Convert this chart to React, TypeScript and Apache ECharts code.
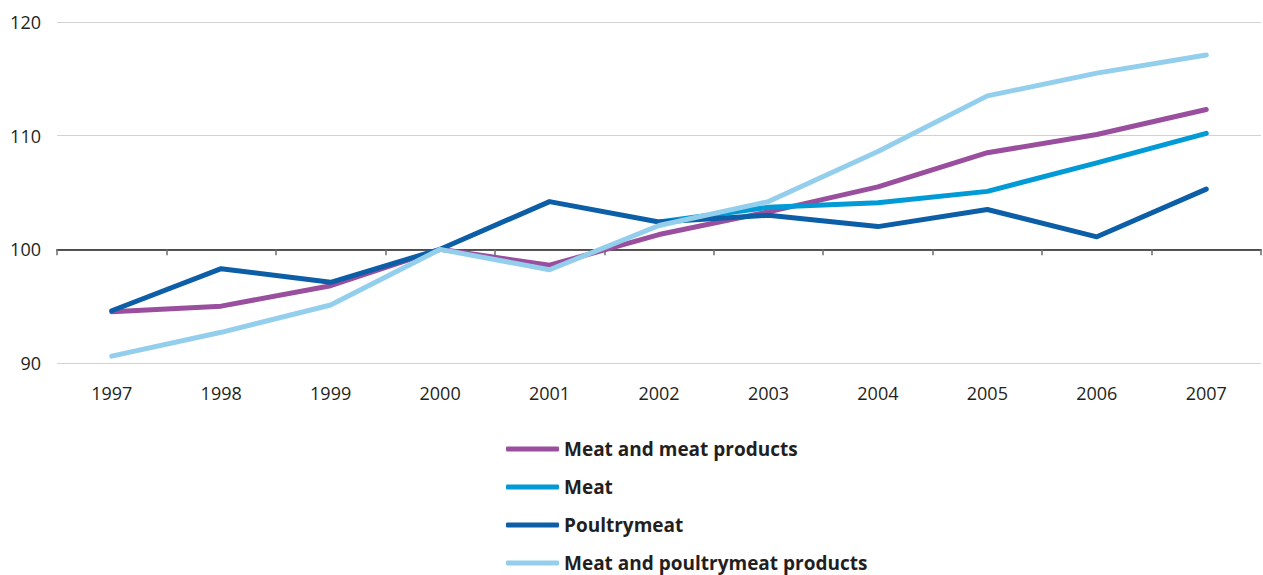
import React, { useEffect, useRef } from "react";
import * as echarts from "echarts";

// Price index, 2000 = 100
const years = ["1997", "1998", "1999", "2000", "2001", "2002", "2003", "2004", "2005", "2006", "2007"];

const meatAndMeatProducts = [94.5, 95.0, 96.8, 100, 98.6, 101.3, 103.3, 105.5, 108.5, 110.1, 112.3];
const meat = [null, null, null, null, null, 102.4, 103.7, 104.1, 105.1, 107.6, 110.2];
const poultrymeat = [94.6, 98.3, 97.1, 100, 104.2, 102.4, 103.0, 102.0, 103.5, 101.1, 105.3];
const meatAndPoultrymeatProducts = [90.6, 92.7, 95.1, 100, 98.2, 102.1, 104.2, 108.6, 113.5, 115.5, 117.1];

const seriesNames = [
  "Meat and meat products",
  "Meat",
  "Poultrymeat",
  "Meat and poultrymeat products",
];
const seriesColors = ["#9a4f9e", "#009ad6", "#0c5ea6", "#93cfed"];
const seriesValues = [meatAndMeatProducts, meat, poultrymeat, meatAndPoultrymeatProducts];

const TEXT = "#231f20";
const FONT = "'Open Sans', 'Noto Sans', sans-serif";

export default function App() {
  const ref = useRef<HTMLDivElement>(null);

  useEffect(() => {
    document.body.style.margin = "0";
    if (!ref.current) return;
    const chart = echarts.init(ref.current, undefined, { renderer: "svg" });

    const gridTop = 22;
    const gridHeight = 341;
    const yMin = 90;
    const yMax = 120;
    // pixel distance from the bottom of the grid up to the 100 line
    const baseOffset = (gridHeight * (100 - yMin)) / (yMax - yMin);

    chart.setOption({
      animation: false,
      backgroundColor: "#ffffff",
      textStyle: { fontFamily: FONT },
      grid: { left: 57, right: 2, top: gridTop, height: gridHeight, containLabel: false },
      xAxis: [
        {
          type: "category",
          data: years,
          boundaryGap: true,
          axisLine: { show: false },
          axisTick: { show: false },
          axisLabel: { color: TEXT, fontSize: 18, fontFamily: FONT, margin: 21 },
          splitLine: { show: false },
        },
        {
          type: "category",
          data: years,
          boundaryGap: true,
          position: "bottom",
          offset: -baseOffset,
          axisLine: { show: true, lineStyle: { color: TEXT, width: 1.5 } },
          axisTick: { show: true, length: 6, lineStyle: { color: "#6d6d6d", width: 1.5 } },
          axisLabel: { show: false },
          splitLine: { show: false },
        },
      ],
      yAxis: {
        type: "value",
        min: yMin,
        max: yMax,
        interval: 10,
        axisLine: { show: false },
        axisTick: { show: false },
        axisLabel: { color: TEXT, fontSize: 18, fontFamily: FONT, margin: 16 },
        splitLine: { show: true, lineStyle: { color: "#d2d2d2", width: 1.2 } },
      },
      legend: {
        orient: "vertical",
        left: 506,
        top: 439,
        padding: 0,
        itemWidth: 53,
        itemHeight: 5,
        itemGap: 18,
        itemTextGap: 3,
        icon: "roundRect",
        data: seriesNames,
        textStyle: { color: TEXT, fontSize: 19, fontWeight: "bold", fontFamily: FONT, lineHeight: 20 },
      },
      series: seriesNames.map((name, i) => ({
        name,
        type: "line",
        xAxisIndex: 0,
        data: seriesValues[i],
        symbol: "none",
        showSymbol: false,
        color: seriesColors[i],
        lineStyle: { color: seriesColors[i], width: 5, cap: "round", join: "round" },
        itemStyle: { color: seriesColors[i] },
        connectNulls: false,
        z: 2 + i,
      })),
    });

    return () => chart.dispose();
  }, []);

  return <div ref={ref} style={{ width: 1263, height: 575 }} />;
}
